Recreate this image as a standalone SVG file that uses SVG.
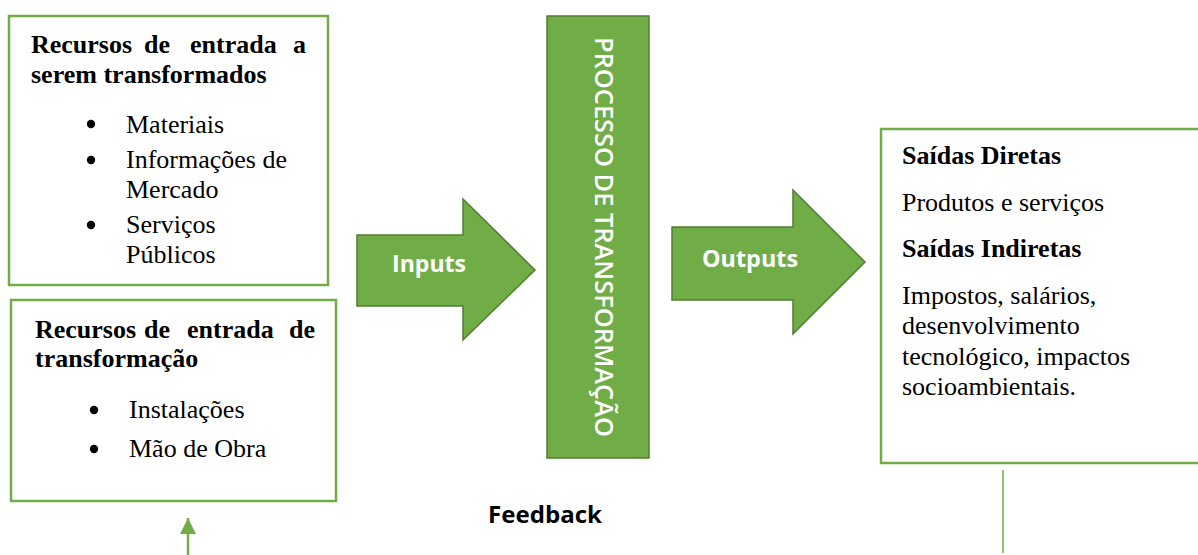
<svg xmlns="http://www.w3.org/2000/svg" width="1198" height="555" viewBox="0 0 1198 555">
<style>
.box{fill:#fff;stroke:#70AD47;stroke-width:2.5}
.garrow{fill:#70AD47;stroke:#507E32;stroke-width:1.5}
.t{font-family:"Liberation Serif","Times New Roman",serif;font-size:26px;fill:#000}
.b{font-weight:bold}
.w{font-family:"Open Sans","Liberation Sans",sans-serif;font-weight:bold;fill:#fff;font-size:24px}
.bul{fill:#000}
.conn{stroke:#70AD47;fill:none}
</style>
<defs>
<marker id="ah" viewBox="0 0 10 10" refX="10" refY="5" markerWidth="16" markerHeight="16" markerUnits="userSpaceOnUse" orient="auto">
<path d="M0,0 L10,5 L0,10 z" fill="#70AD47"/>
</marker>
</defs>
<g id="box-transformados">
<rect class="box" x="9" y="16" width="319" height="269"/>
<text class="t b" y="53"><tspan x="31">Recursos</tspan><tspan x="144">de</tspan><tspan x="190">entrada</tspan><tspan x="293">a</tspan></text>
<text class="t b" x="31" y="83">serem transformados</text>
<circle class="bul" cx="91" cy="124" r="4.2"/>
<circle class="bul" cx="91" cy="160" r="4.2"/>
<circle class="bul" cx="91" cy="225" r="4.2"/>
<text class="t" x="126" y="133">Materiais</text>
<text class="t" x="126" y="168">Informações de</text>
<text class="t" x="126" y="198">Mercado</text>
<text class="t" x="126" y="233">Serviços</text>
<text class="t" x="126" y="263">Públicos</text>
</g>
<g id="box-transformacao">
<rect class="box" x="11" y="300" width="325" height="201"/>
<text class="t b" y="338"><tspan x="35">Recursos</tspan><tspan x="144">de</tspan><tspan x="187">entrada</tspan><tspan x="289">de</tspan></text>
<text class="t b" x="35" y="367">transformação</text>
<circle class="bul" cx="94" cy="410" r="4.2"/>
<circle class="bul" cx="94" cy="449" r="4.2"/>
<text class="t" x="129" y="418">Instalações</text>
<text class="t" x="129" y="457">Mão de Obra</text>
</g>
<g id="inputs">
<path class="garrow" d="M357,235 L463,235 L463,199 L535,270 L463,340 L463,306 L357,306 Z"/>
<text class="w" x="392" y="272" textLength="74" lengthAdjust="spacingAndGlyphs">Inputs</text>
</g>
<g id="processo">
<rect class="garrow" x="547" y="16" width="102" height="442"/>
<text transform="translate(595,37) rotate(90)" x="0" y="0" font-family="'Open Sans','Liberation Sans',sans-serif" font-weight="600" font-size="25" fill="#fff" textLength="400" lengthAdjust="spacingAndGlyphs">PROCESSO DE TRANSFORMAÇÃO</text>
</g>
<g id="outputs">
<path class="garrow" d="M672,227 L793,227 L793,190 L865,262 L793,334 L793,300 L672,300 Z"/>
<text class="w" x="702" y="267" textLength="96" lengthAdjust="spacingAndGlyphs">Outputs</text>
</g>
<g id="box-saidas">
<rect class="box" x="881" y="129" width="330" height="334"/>
<text class="t b" x="902" y="164">Saídas Diretas</text>
<text class="t" x="902" y="211">Produtos e serviços</text>
<text class="t b" x="902" y="257">Saídas Indiretas</text>
<text class="t" x="902" y="304">Impostos, salários,</text>
<text class="t" x="902" y="334">desenvolvimento</text>
<text class="t" x="902" y="365">tecnológico, impactos</text>
<text class="t" x="902" y="395">socioambientais.</text>
</g>
<g id="feedback">
<text x="488" y="523" font-family="'Open Sans','Liberation Sans',sans-serif" font-weight="bold" font-size="24" fill="#000" textLength="114" lengthAdjust="spacingAndGlyphs">Feedback</text>
</g>
<g id="connectors">
<line class="conn" x1="188" y1="555" x2="188" y2="518" stroke-width="2.5" marker-end="url(#ah)"/>
<line class="conn" x1="1003" y1="470" x2="1003" y2="553" stroke-width="1.5"/>
</g>
</svg>
